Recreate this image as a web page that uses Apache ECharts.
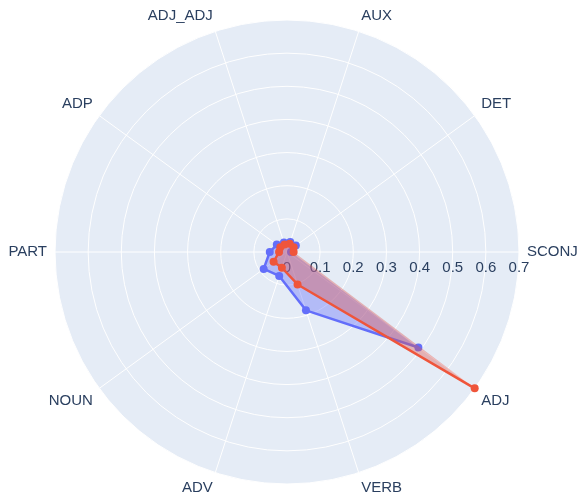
<!DOCTYPE html>
<html>
<head>
<meta charset="utf-8">
<script src="https://cdn.jsdelivr.net/npm/echarts@6/dist/echarts.min.js"></script>
<style>
  html, body { margin: 0; padding: 0; background: #fff; }
  #chart { width: 583px; height: 501px; }
</style>
</head>
<body>
<div id="chart"></div>
<script>
// categories go counterclockwise starting from the right
const categories = ['SCONJ', 'DET', 'AUX', 'ADJ_ADJ', 'ADP', 'PART', 'NOUN', 'ADV', 'VERB', 'ADJ']
const blueValues = [0.012, 0.033, 0.032, 0.03, 0.038, 0.052, 0.087, 0.076, 0.185, 0.49]
const redValues = [0.02, 0.025, 0.026, 0.024, 0.025, 0.024, 0.05, 0.05, 0.103, 0.70]
const radialTicks = [0, 0.1, 0.2, 0.3, 0.4, 0.5, 0.6, 0.7]

const textColor = '#2a3f5f'
const fontFamily = 'Liberation Sans, Arial, sans-serif'
const step = 360 / categories.length

// each category sits on its own spoke
const toPoints = (vals) => vals.map((v, i) => [v, i * step])
// same points, first one repeated so the fill closes
const toClosed = (vals) => {
  let pts = toPoints(vals)
  pts.push([vals[0], categories.length * step])
  return pts
}

// fill is closed, line is open (like plotly fill toself)
const makeFill = (vals, fill, z) => {
  return {
    type: 'line',
    coordinateSystem: 'polar',
    polarIndex: 1,
    data: toClosed(vals),
    showSymbol: false,
    silent: true,
    clip: false,
    z: z,
    lineStyle: { width: 0, opacity: 0 },
    areaStyle: { color: fill },
    animation: false
  }
}
const makeLine = (vals, color, z) => {
  return {
    type: 'line',
    coordinateSystem: 'polar',
    polarIndex: 1,
    data: toPoints(vals),
    symbol: 'circle',
    symbolSize: 8,
    showSymbol: true,
    clip: false,
    z: z,
    lineStyle: { color: color, width: 2.5 },
    itemStyle: { color: color },
    animation: false
  }
}

const angleBase = {
  type: 'value',
  min: 0,
  max: 360,
  interval: step,
  startAngle: 0,
  clockwise: false,
  axisLine: { show: false },
  axisTick: { show: false }
}
const radiusBase = {
  type: 'value',
  min: radialTicks[0],
  max: radialTicks[radialTicks.length - 1],
  interval: 0.1,
  axisLine: { show: false },
  axisTick: { show: false }
}

var myChart = echarts.init(document.getElementById('chart'))
let option = {
  backgroundColor: '#fff',
  polar: [
    { center: [287, 252], radius: 232 },
    { center: [287, 252], radius: 232 }
  ],
  angleAxis: [
    // background disc only
    Object.assign({}, angleBase, {
      polarIndex: 0, z: 0,
      axisLabel: { show: false },
      splitLine: { show: false },
      splitArea: { show: true, areaStyle: { color: ['#E5ECF6'] } }
    }),
    Object.assign({}, angleBase, {
      polarIndex: 1, z: 2,
      axisLabel: {
        color: textColor, fontSize: 15, fontFamily: fontFamily, margin: 8,
        formatter: (v) => categories[Math.round(v / step) % categories.length]
      },
      splitLine: { show: true, lineStyle: { color: '#fff', width: 1 } },
      splitArea: { show: false }
    })
  ],
  radiusAxis: [
    Object.assign({}, radiusBase, {
      polarIndex: 0, z: 0,
      axisLabel: { show: false },
      splitLine: { show: false }
    }),
    Object.assign({}, radiusBase, {
      polarIndex: 1, z: 2,
      axisLabel: {
        margin: -8,
        verticalAlign: 'top',
        color: textColor, fontSize: 15, fontFamily: fontFamily,
        formatter: (v) => String(Math.round(v * 10) / 10)
      },
      splitLine: { show: true, lineStyle: { color: '#fff', width: 1 } }
    })
  ],
  series: [
    makeFill(blueValues, 'rgba(99,110,250,0.55)', 5),
    makeLine(blueValues, '#636efa', 6),
    makeFill(redValues, 'rgba(220,84,76,0.55)', 7),
    makeLine(redValues, '#EF553B', 8)
  ]
};
myChart.setOption(option);
</script>
</body>
</html>
